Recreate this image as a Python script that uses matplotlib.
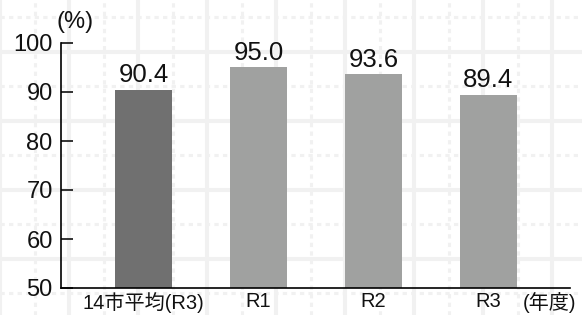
import numpy as np
import matplotlib
matplotlib.use("Agg")
import matplotlib.pyplot as plt
from matplotlib.lines import Line2D
import matplotlib.transforms as mtransforms

categories = ["14市平均(R3)", "R1", "R2", "R3"]
values = [90.4, 95.0, 93.6, 89.4]
value_labels = ["90.4", "95.0", "93.6", "89.4"]
yticks = [50, 60, 70, 80, 90, 100]
bar_colors = ["#707070", "#a0a1a0", "#a0a1a0", "#a0a1a0"]

W, H = 582, 315
fig = plt.figure(figsize=(W / 100, H / 100), dpi=100)
fig.patch.set_facecolor("white")

# graph-paper background
grid_col = "#f1f1f1"
for i, xx in enumerate(np.arange(0, W + 1, 34.5)):
    solid = (i % 2 == 0)
    fig.add_artist(Line2D([xx / W, xx / W], [0, 1], transform=fig.transFigure,
                          color=grid_col, lw=2.9 if solid else 2.2,
                          ls="-" if solid else (0, (1.4, 1.4)), zorder=-5))
for i, yy in enumerate(np.arange(17, H + 1, 34.5)):
    solid = (i % 2 == 1)
    y = 1 - yy / H
    fig.add_artist(Line2D([0, 1], [y, y], transform=fig.transFigure,
                          color=grid_col, lw=2.9 if solid else 2.2,
                          ls="-" if solid else (0, (1.4, 1.4)), zorder=-5))

left, right, top, bottom = 61, 570, 43, 288
ax = fig.add_axes([left / W, 1 - bottom / H, (right - left) / W, (bottom - top) / H])
ax.patch.set_alpha(0)

x = np.arange(len(categories))
ax.bar(x, [v - 50 for v in values], bottom=50, width=0.5, color=bar_colors, zorder=2)
ax.set_xlim(-0.717, 3.709)
ax.set_ylim(50, 100)

for xi, v, lab in zip(x, values, value_labels):
    ax.annotate(lab, (xi, v), xytext=(0, 2), textcoords="offset points",
                ha="center", va="bottom", fontsize=18.5, family="Liberation Sans",
                color="#111111")

ax.set_yticks(yticks)
ax.set_yticklabels([str(t) for t in yticks], fontsize=17, family="Liberation Sans",
                   color="#111111")
ax.tick_params(axis="y", direction="in", length=8.5, width=1.2, pad=6, color="#111111")
ax.set_xticks(x)
ax.set_xticklabels(categories, fontsize=14.5,
                   family=["Liberation Sans", "Noto Sans CJK JP"], color="#111111")
ax.tick_params(axis="x", length=0, pad=3)

for s in ["top", "right"]:
    ax.spines[s].set_visible(False)
ax.spines["left"].set_linewidth(1.2)
ax.spines["bottom"].set_linewidth(1.2)

trans = mtransforms.blended_transform_factory(ax.transData, ax.transAxes)
ax.text(3.53, 0, "(年度)", ha="center", va="top",
        fontsize=14.5, family=["Liberation Sans", "Noto Sans CJK JP"], color="#111111",
        transform=trans + mtransforms.ScaledTranslation(0, -3 / 72, fig.dpi_scale_trans))

ax.text(0, 1, "(%)", ha="center", va="center", fontsize=17, family="Liberation Sans",
        color="#111111",
        transform=ax.transAxes + mtransforms.ScaledTranslation(0.14, 0.21, fig.dpi_scale_trans))

fig.savefig("out.png", dpi=100)
